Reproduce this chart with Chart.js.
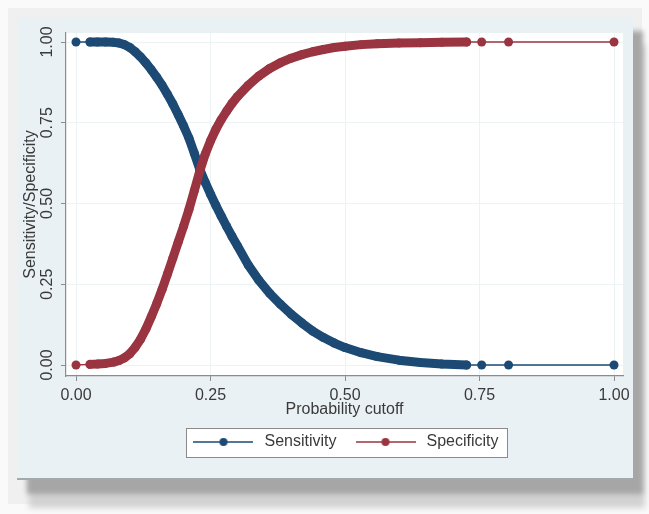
<!DOCTYPE html>
<html><head><meta charset="utf-8">
<script src="https://cdn.jsdelivr.net/npm/chart.js@4.4.1/dist/chart.umd.min.js"></script>
<style>
html,body{margin:0;padding:0;background:#fafafa;width:649px;height:514px;overflow:hidden;position:relative}
#frame{position:absolute;left:8px;top:8px;width:634px;height:496px;background:#f0f0f0}
#region{position:absolute;left:17px;top:17px;width:616px;height:463px;background:#eaf1f4;box-sizing:border-box;border-bottom:2px solid #a0a9ad;box-shadow:10px 14px 5px #a6a6a6, 12px 28px 6px #d2d2d2}
#c{position:absolute;left:0;top:0}
</style></head><body>
<div id="frame"></div><div id="region"></div>
<canvas id="c" width="649" height="514"></canvas>
<script>
// ---- data ----
const cutoffs = [0, 0.026, 0.04, 0.055, 0.07, 0.08, 0.09, 0.10, 0.11, 0.12, 0.13, 0.14, 0.15, 0.16, 0.17, 0.18, 0.19, 0.20, 0.21, 0.22, 0.23, 0.24, 0.25, 0.26, 0.27, 0.28, 0.29, 0.30, 0.32, 0.34, 0.36, 0.38, 0.40, 0.42, 0.44, 0.46, 0.48, 0.50, 0.53, 0.56, 0.60, 0.64, 0.68, 0.726, 0.754, 0.804, 1.0];
const sensitivity = [1.000, 1.000, 1.000, 1.000, 0.999, 0.997, 0.992, 0.983, 0.970, 0.954, 0.935, 0.914, 0.891, 0.866, 0.838, 0.808, 0.775, 0.740, 0.702, 0.655, 0.606, 0.566, 0.529, 0.494, 0.461, 0.429, 0.398, 0.369, 0.310, 0.262, 0.222, 0.188, 0.157, 0.130, 0.105, 0.085, 0.068, 0.054, 0.038, 0.026, 0.015, 0.008, 0.003, 0.000, 0.000, 0.000, 0.000];
const specificity = [0.000, 0.002, 0.003, 0.005, 0.009, 0.014, 0.022, 0.035, 0.055, 0.080, 0.112, 0.150, 0.190, 0.234, 0.282, 0.331, 0.381, 0.430, 0.482, 0.540, 0.600, 0.652, 0.694, 0.730, 0.760, 0.786, 0.810, 0.831, 0.866, 0.895, 0.918, 0.936, 0.950, 0.961, 0.970, 0.977, 0.983, 0.987, 0.992, 0.995, 0.997, 0.998, 0.999, 1.000, 1.000, 1.000, 1.000];
const xTicks = [0, 0.25, 0.5, 0.75, 1];
const yTicks = [0, 0.25, 0.5, 0.75, 1];
const seriesNames = ['Sensitivity', 'Specificity'];
const denseStart = 0.026, denseEnd = 0.726;

const NAVY = '#1c4a74', MAROON = '#993440';
const TEXT = '#3a3a3a';
Chart.defaults.font.family = "'Liberation Sans', Arial, sans-serif";
Chart.defaults.font.size = 16;
Chart.defaults.color = TEXT;

function legendSymbol(color) {
  const c = document.createElement('canvas');
  c.width = 60; c.height = 10;
  const g = c.getContext('2d');
  g.strokeStyle = color; g.lineWidth = 1.4;
  g.beginPath(); g.moveTo(0, 5); g.lineTo(60, 5); g.stroke();
  g.fillStyle = color;
  g.beginPath(); g.arc(30, 5, 4, 0, Math.PI * 2); g.fill();
  return c;
}
const symbols = [legendSymbol(NAVY), legendSymbol(MAROON)];

function makeSeries(vals) { return cutoffs.map((x, i) => ({x: x, y: vals[i]})); }
function thick(ctx) {
  return (cutoffs[ctx.p0DataIndex] >= denseStart && cutoffs[ctx.p1DataIndex] <= denseEnd) ? 9 : 1.4;
}

const decor = {
  id: 'decor',
  beforeDraw(chart) {
    const {ctx, chartArea: a} = chart;
    ctx.save();
    ctx.fillStyle = '#ffffff';
    ctx.fillRect(a.left, a.top, a.right - a.left, a.bottom - a.top);
    const hb = chart.legend && chart.legend.legendHitBoxes;
    if (hb && hb.length) {
      const first = hb[0], last = hb[hb.length - 1];
      const cy = first.top + first.height / 2;
      const x0 = Math.round(first.left - 4), x1 = Math.round(last.left + last.width + 8);
      const y0 = Math.round(cy - 14.5);
      ctx.fillRect(x0, y0, x1 - x0, 29);
      ctx.strokeStyle = '#8a8a8a'; ctx.lineWidth = 1;
      ctx.strokeRect(x0 + 0.5, y0 + 0.5, x1 - x0, 29);
    }
    ctx.restore();
  }
};

const ds = (label, vals, color, order) => ({
  label: label,
  data: makeSeries(vals),
  borderColor: color,
  backgroundColor: color,
  pointBackgroundColor: color,
  pointBorderWidth: 0,
  pointRadius: 4.5,
  pointHoverRadius: 4.5,
  borderWidth: 1.4,
  borderCapStyle: 'round',
  borderJoinStyle: 'round',
  tension: 0,
  order: order,
  segment: { borderWidth: thick }
});

new Chart(document.getElementById('c'), {
  type: 'line',
  data: {
    datasets: [
      ds(seriesNames[0], sensitivity, NAVY, 1),
      ds(seriesNames[1], specificity, MAROON, 0)
    ]
  },
  plugins: [decor],
  options: {
    responsive: false,
    animation: false,
    events: [],
    layout: { padding: { left: 0, top: 33, right: 26, bottom: 54 } },
    plugins: {
      tooltip: { enabled: false },
      legend: {
        position: 'bottom',
        align: 'center',
        fullSize: false,
        labels: {
          usePointStyle: true,
          pointStyleWidth: 66,
          padding: 16,
          color: TEXT,
          font: { size: 16 },
          sort: (a, b) => a.datasetIndex - b.datasetIndex,
          generateLabels: (chart) => chart.data.datasets.map((d, i) => ({
            text: d.label, datasetIndex: i, pointStyle: symbols[i],
            fillStyle: 'rgba(0,0,0,0)', strokeStyle: 'rgba(0,0,0,0)', lineWidth: 0,
            hidden: false, fontColor: TEXT
          }))
        }
      }
    },
    scales: {
      x: {
        type: 'linear',
        min: -0.0186, max: 1.0167,
        afterBuildTicks: (s) => { s.ticks = xTicks.map(v => ({value: v})); },
        afterFit: (s) => { s.height = 42; },
        grid: { color: '#edf2f4', tickColor: '#8c8c8c', tickLength: 5, drawTicks: true },
        border: { display: true, color: '#8c8c8c', width: 1.2 },
        ticks: { padding: 5, color: TEXT, autoSkip: false, maxRotation: 0, font: { size: 16 },
                 callback: (v) => Number(v).toFixed(2) },
        title: { display: true, text: 'Probability cutoff', color: TEXT,
                 font: { size: 16, lineHeight: 1 }, padding: { top: 0, bottom: 0 } }
      },
      y: {
        type: 'linear',
        min: -0.034, max: 1.028,
        afterBuildTicks: (s) => { s.ticks = yTicks.map(v => ({value: v})); },
        afterFit: (s) => { s.width = 66; },
        grid: { color: '#edf2f4', tickColor: '#8c8c8c', tickLength: 5, drawTicks: true },
        border: { display: true, color: '#8c8c8c', width: 1.2 },
        ticks: { padding: -2.5, color: TEXT, autoSkip: false, minRotation: 90, maxRotation: 90,
                 crossAlign: 'center', font: { size: 16 },
                 callback: (v) => Number(v).toFixed(2) },
        title: { display: true, text: 'Sensitivity/Specificity', color: TEXT,
                 font: { size: 16, lineHeight: 1 }, padding: { top: 23, bottom: 0 } }
      }
    }
  }
});
</script>
</body></html>
